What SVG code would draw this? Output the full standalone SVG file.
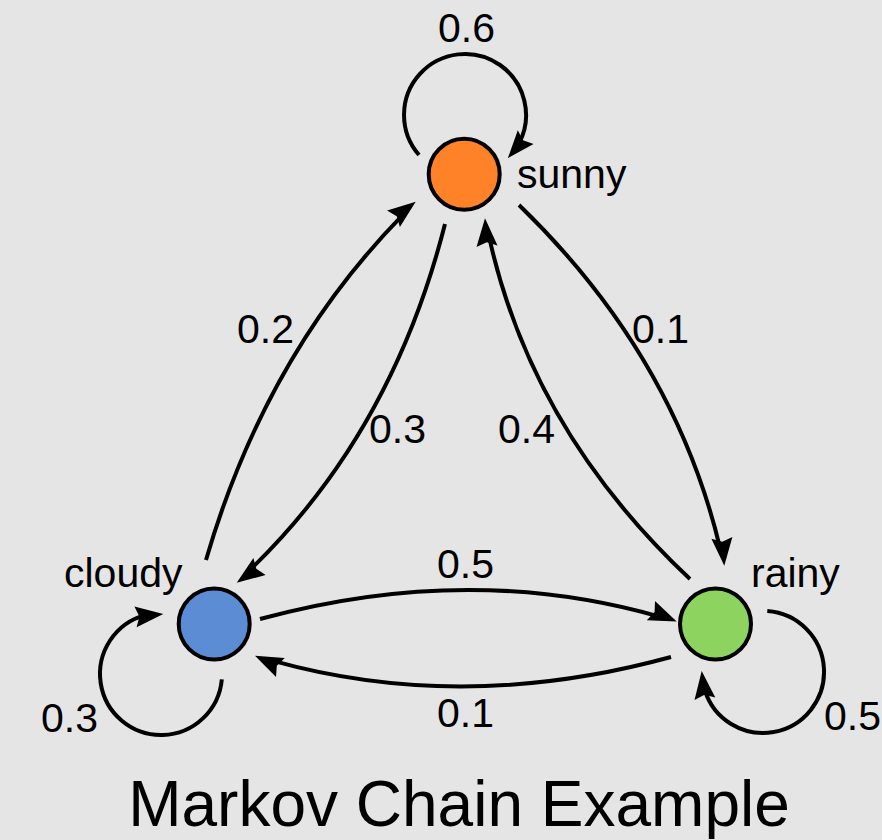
<svg xmlns="http://www.w3.org/2000/svg" width="882" height="840" viewBox="0 0 882 840">
<style>
.bg{fill:#e5e5e5}
.node{stroke:#000;stroke-width:4}
.edge{fill:none;stroke:#000;stroke-width:4}
.ah{fill:#000;stroke:none}
.lbl{font-family:"Liberation Sans",Arial,sans-serif;font-size:41px;fill:#000}
.title{font-family:"Liberation Sans",Arial,sans-serif;font-size:64px;fill:#000;text-anchor:middle}
</style>
<rect class="bg" x="0" y="0" width="882" height="840"/>
<g id="connectors">
<path class="edge" d="M419,155 A61,61 0 1 1 518.9,143.6"/>
<path class="ah" d="M507.8,158.2 L517.8,130.3 L523,140.2 L533.6,144.1 Z"/>
<path class="edge" d="M221.8,679.3 A61,61 0 1 1 145.2,615.1"/>
<path class="ah" d="M163.3,614 L134.4,606.5 L139.4,616.5 L136.6,627.3 Z"/>
<path class="edge" d="M767.3,611.1 A61,61 0 1 1 704.7,689.8"/>
<path class="ah" d="M701.7,671 L715.3,697.6 L704.5,694.8 L694.5,700 Z"/>
<path class="edge" d="M260,619 Q468,562 659.4,616.6"/>
<path class="ah" d="M676.7,621.5 L655,600.9 L654.6,612.1 L646.8,620.3 Z"/>
<path class="edge" d="M671,657 Q463,714 272.3,660.6"/>
<path class="ah" d="M255,655.7 L284.8,658 L276.8,665.8 L276,677 Z"/>
<path class="edge" d="M206,560 Q265.6,355 403.1,214.6"/>
<path class="ah" d="M415.7,201.7 L387.1,210.4 L396.7,216.3 L399.9,227 Z"/>
<path class="edge" d="M445,224 Q392,433 249.7,570.2"/>
<path class="ah" d="M236.7,582.7 L253.4,557.9 L256.3,568.8 L265.6,575.1 Z"/>
<path class="edge" d="M519,205 Q674,355 720.1,548.2"/>
<path class="ah" d="M724.3,565.7 L711.4,538.7 L722.2,541.8 L732.4,536.9 Z"/>
<path class="edge" d="M690,579 Q531.5,430.5 488.9,235.9"/>
<path class="ah" d="M485,218.3 L497.5,245.5 L486.7,242.2 L476.5,246.9 Z"/>
<text class="lbl" x="438" y="42">0.6</text>
<text class="lbl" x="237" y="343">0.2</text>
<text class="lbl" x="369" y="443">0.3</text>
<text class="lbl" x="632" y="343">0.1</text>
<text class="lbl" x="498" y="443">0.4</text>
<text class="lbl" x="437" y="578">0.5</text>
<text class="lbl" x="437" y="727">0.1</text>
<text class="lbl" x="41" y="732">0.3</text>
<text class="lbl" x="824" y="730">0.5</text>
</g>
<g id="sunny">
<circle class="node" cx="464.2" cy="174.2" r="35.5" fill="#ff8128"/>
<text class="lbl" x="517" y="188">sunny</text>
</g>
<g id="cloudy">
<circle class="node" cx="214.2" cy="624" r="35.5" fill="#5b8cd4"/>
<text class="lbl" x="64" y="587">cloudy</text>
</g>
<g id="rainy">
<circle class="node" cx="715.5" cy="624" r="35.5" fill="#8cd45f"/>
<text class="lbl" x="751" y="587">rainy</text>
</g>
<text class="title" x="459" y="826">Markov Chain Example</text>
</svg>
